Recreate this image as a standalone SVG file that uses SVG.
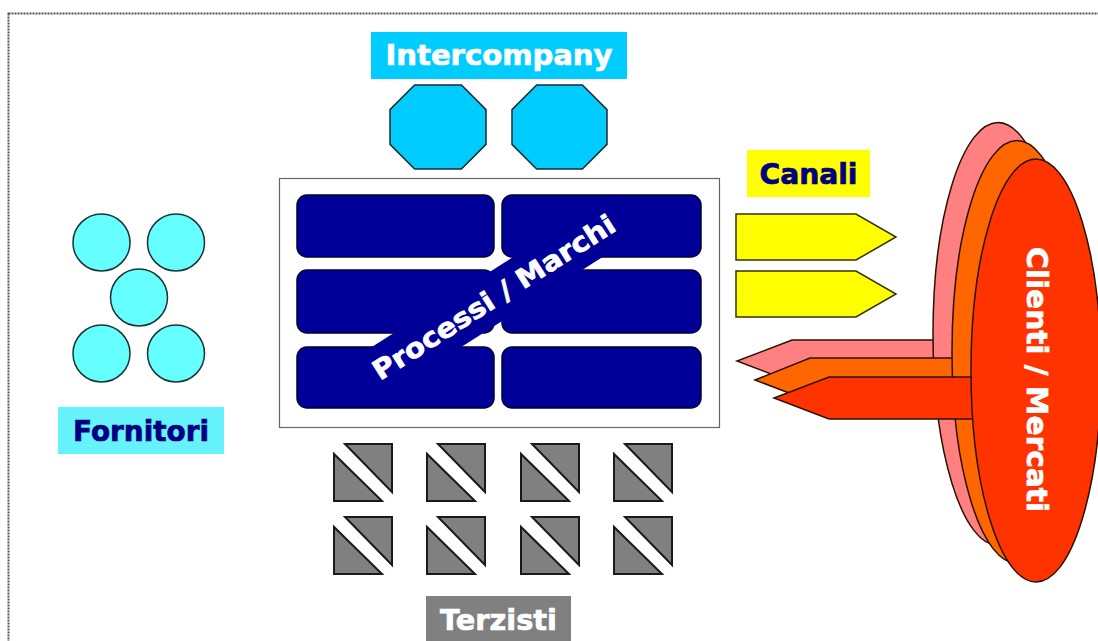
<svg xmlns="http://www.w3.org/2000/svg" width="1098" height="641" viewBox="0 0 1098 641">
  <style>
    .lbl { font-family: "DejaVu Sans", Verdana, sans-serif; font-weight: bold; stroke-width: 0.7; }
    .navy { fill: #000080; stroke: #000080; }
    .white { fill: #ffffff; stroke: #ffffff; }
    .block { fill: #000099; stroke: #000033; stroke-width: 1.5; }
    .octa { fill: #00ccff; stroke: #1a2a33; stroke-width: 1.5; }
    .dot { fill: #66ffff; stroke: #1a3333; stroke-width: 1.5; }
    .tri { fill: #808080; stroke: #1a1a1a; stroke-width: 2; stroke-linejoin: miter; }
    .yel { fill: #ffff00; stroke: #333300; stroke-width: 1.5; }
    .edge { stroke: #2a1000; stroke-width: 1.5; }
  </style>
  <defs>
    <g id="split-square">
      <polygon class="tri" points="11,0 58,0 58,48"/>
      <polygon class="tri" points="0,10 0,57 48,57"/>
    </g>
  </defs>

  <rect width="1098" height="641" fill="#ffffff"/>
  <!-- dotted page frame -->
  <rect x="8.5" y="13.5" width="1200" height="1000" fill="none" stroke="#555555" stroke-width="2" stroke-dasharray="2 1"/>

  <g id="intercompany">
    <rect x="371" y="32" width="256" height="47" fill="#00ccff"/>
    <text class="lbl white" x="499" y="65" font-size="28" text-anchor="middle" textLength="227" lengthAdjust="spacingAndGlyphs">Intercompany</text>
    <polygon class="octa" points="414.6,85 461.4,85 486,109.6 486,144.4 461.4,169 414.6,169 390,144.4 390,109.6"/>
    <polygon class="octa" points="536.6,85 582.4,85 607,109.6 607,144.4 582.4,169 536.6,169 512,144.4 512,109.6"/>
  </g>

  <g id="fornitori">
    <circle class="dot" cx="101.5" cy="242.5" r="28.5"/>
    <circle class="dot" cx="176" cy="242.5" r="28.5"/>
    <circle class="dot" cx="139" cy="297.5" r="28.5"/>
    <circle class="dot" cx="101.5" cy="353.5" r="28.5"/>
    <circle class="dot" cx="176" cy="353.5" r="28.5"/>
    <rect x="58" y="407" width="166" height="47" fill="#66f2fa"/>
    <text class="lbl navy" x="141" y="441" font-size="28" text-anchor="middle" textLength="136" lengthAdjust="spacingAndGlyphs">Fornitori</text>
  </g>

  <g id="processi">
    <rect x="279.5" y="178.5" width="440" height="249" fill="#ffffff" stroke="#666666" stroke-width="1.2"/>
    <rect class="block" x="297" y="195" width="197" height="62" rx="10"/>
    <rect class="block" x="502" y="195" width="199" height="62" rx="10"/>
    <rect class="block" x="297" y="270" width="197" height="63" rx="10"/>
    <rect class="block" x="502" y="270" width="199" height="63" rx="10"/>
    <rect class="block" x="297" y="347" width="197" height="61" rx="10"/>
    <rect class="block" x="502" y="347" width="199" height="61" rx="10"/>
    <g transform="translate(380 381) rotate(-32.5)">
      <rect x="-5" y="-33" width="299" height="48" fill="#000099"/>
      <text class="lbl white" x="0" y="0" font-size="27" textLength="282" lengthAdjust="spacingAndGlyphs">Processi / Marchi</text>
    </g>
  </g>

  <g id="terzisti">
    <use href="#split-square" x="334" y="444"/>
    <use href="#split-square" x="427" y="444"/>
    <use href="#split-square" x="521" y="444"/>
    <use href="#split-square" x="614" y="444"/>
    <use href="#split-square" x="334" y="517"/>
    <use href="#split-square" x="427" y="517"/>
    <use href="#split-square" x="521" y="517"/>
    <use href="#split-square" x="614" y="517"/>
    <rect x="426" y="596" width="145" height="47" fill="#808080"/>
    <text class="lbl white" x="498.5" y="630" font-size="28" text-anchor="middle" textLength="117" lengthAdjust="spacingAndGlyphs">Terzisti</text>
  </g>

  <g id="canali">
    <rect x="747" y="150" width="123" height="47" fill="#ffff00"/>
    <text class="lbl navy" x="808.5" y="184" font-size="28" text-anchor="middle" textLength="98" lengthAdjust="spacingAndGlyphs">Canali</text>
  </g>

  <g id="connectors">
    <polygon class="yel" points="736,214 856,214 896,237 856,260 736,260"/>
    <polygon class="yel" points="736,271 856,271 896,294 856,317 736,317"/>
  </g>

  <g id="clienti-mercati">
    <polygon class="edge" fill="#ff8080" points="792,340 940,340 940,382 792,382 737,361"/>
    <ellipse class="edge" fill="#ff8080" cx="998" cy="334" rx="65" ry="211.5"/>
    <polygon class="edge" fill="#ff6600" points="810,358 960,358 960,401 810,401 755,380"/>
    <ellipse class="edge" fill="#ff6600" cx="1017" cy="352" rx="65" ry="211.5"/>
    <polygon class="edge" fill="#ff3300" points="829,377 980,377 980,419 829,419 774,398"/>
    <ellipse class="edge" fill="#ff3300" cx="1036" cy="370.5" rx="65" ry="211.5"/>
    <text class="lbl white" x="1027" y="379.5" font-size="29" text-anchor="middle" textLength="265" lengthAdjust="spacingAndGlyphs" transform="rotate(90 1027 379.5)">Clienti / Mercati</text>
  </g>
</svg>
